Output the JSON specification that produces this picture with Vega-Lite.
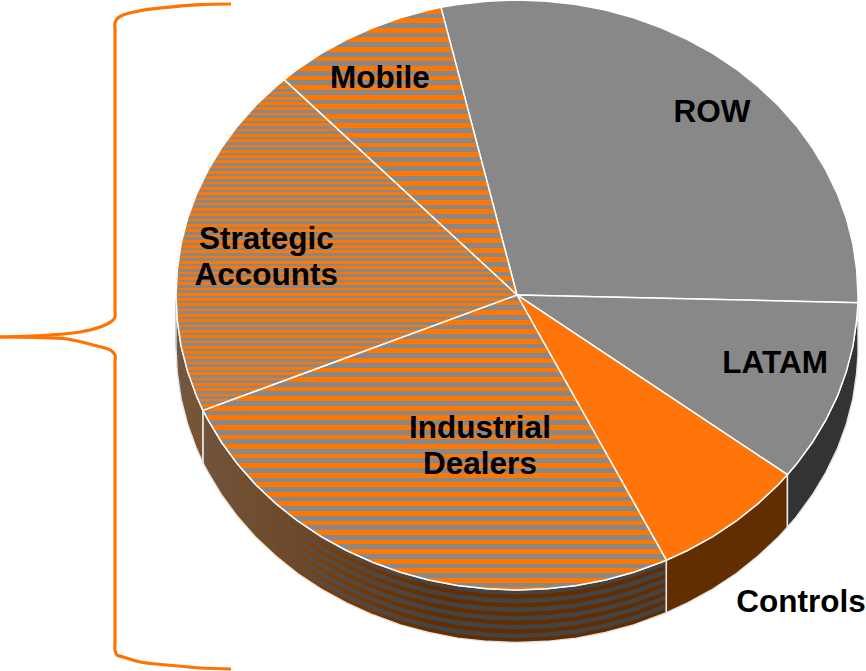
{"$schema":"https://vega.github.io/schema/vega-lite/v6.json","width":866,"height":671,"padding":0,"autosize":{"type":"none"},"background":"white","config":{"view":{"stroke":null}},
"datasets":{
"wall":[
{"s":"LATAM","x":100,"y":-2.6,"y2":-20.4},{"s":"LATAM","x":99.6,"y":-8.7,"y2":-26.5},{"s":"LATAM","x":98.5,"y":-17.4,"y2":-35.2},{"s":"LATAM","x":96.6,"y":-25.9,"y2":-43.7},{"s":"LATAM","x":94,"y":-34.2,"y2":-52},{"s":"LATAM","x":90.6,"y":-42.3,"y2":-60.1},{"s":"LATAM","x":86.6,"y":-50,"y2":-67.8},{"s":"LATAM","x":81.9,"y":-57.4,"y2":-75.2},{"s":"LATAM","x":79.3,"y":-60.9,"y2":-78.7},
{"s":"Controls","x":79.3,"y":-60.9,"y2":-78.7},{"s":"Controls","x":76.6,"y":-64.3,"y2":-82.1},{"s":"Controls","x":70.7,"y":-70.7,"y2":-88.5},{"s":"Controls","x":64.3,"y":-76.6,"y2":-94.4},{"s":"Controls","x":57.4,"y":-81.9,"y2":-99.7},{"s":"Controls","x":50,"y":-86.6,"y2":-104.4},{"s":"Controls","x":43.8,"y":-89.9,"y2":-107.7},
{"s":"Industrial","x":43.8,"y":-89.9,"y2":-107.7},{"s":"Industrial","x":42.3,"y":-90.6,"y2":-108.4},{"s":"Industrial","x":34.2,"y":-94,"y2":-111.8},{"s":"Industrial","x":25.9,"y":-96.6,"y2":-114.4},{"s":"Industrial","x":17.4,"y":-98.5,"y2":-116.3},{"s":"Industrial","x":8.7,"y":-99.6,"y2":-117.4},{"s":"Industrial","x":0,"y":-100,"y2":-117.8},{"s":"Industrial","x":-8.7,"y":-99.6,"y2":-117.4},{"s":"Industrial","x":-17.4,"y":-98.5,"y2":-116.3},{"s":"Industrial","x":-25.9,"y":-96.6,"y2":-114.4},{"s":"Industrial","x":-34.2,"y":-94,"y2":-111.8},{"s":"Industrial","x":-42.3,"y":-90.6,"y2":-108.4},{"s":"Industrial","x":-50,"y":-86.6,"y2":-104.4},{"s":"Industrial","x":-57.4,"y":-81.9,"y2":-99.7},{"s":"Industrial","x":-64.3,"y":-76.6,"y2":-94.4},{"s":"Industrial","x":-70.7,"y":-70.7,"y2":-88.5},{"s":"Industrial","x":-76.6,"y":-64.3,"y2":-82.1},{"s":"Industrial","x":-81.9,"y":-57.4,"y2":-75.2},{"s":"Industrial","x":-86.6,"y":-50,"y2":-67.8},{"s":"Industrial","x":-90.6,"y":-42.3,"y2":-60.1},{"s":"Industrial","x":-92.1,"y":-39.1,"y2":-56.9},
{"s":"Strategic","x":-92.1,"y":-39.1,"y2":-56.9},{"s":"Strategic","x":-94,"y":-34.2,"y2":-52},{"s":"Strategic","x":-96.6,"y":-25.9,"y2":-43.7},{"s":"Strategic","x":-98.5,"y":-17.4,"y2":-35.2},{"s":"Strategic","x":-99.6,"y":-8.7,"y2":-26.5},{"s":"Strategic","x":-100,"y":0,"y2":-17.8}],
"face":[
{"s":"ROW","o":0,"x":0,"y":0},{"s":"ROW","o":1,"x":-22.3,"y":97.5},{"s":"ROW","o":2,"x":-17.4,"y":98.5},{"s":"ROW","o":3,"x":-8.7,"y":99.6},{"s":"ROW","o":4,"x":0,"y":100},{"s":"ROW","o":5,"x":8.7,"y":99.6},{"s":"ROW","o":6,"x":17.4,"y":98.5},{"s":"ROW","o":7,"x":25.9,"y":96.6},{"s":"ROW","o":8,"x":34.2,"y":94},{"s":"ROW","o":9,"x":42.3,"y":90.6},{"s":"ROW","o":10,"x":50,"y":86.6},{"s":"ROW","o":11,"x":57.4,"y":81.9},{"s":"ROW","o":12,"x":64.3,"y":76.6},{"s":"ROW","o":13,"x":70.7,"y":70.7},{"s":"ROW","o":14,"x":76.6,"y":64.3},{"s":"ROW","o":15,"x":81.9,"y":57.4},{"s":"ROW","o":16,"x":86.6,"y":50},{"s":"ROW","o":17,"x":90.6,"y":42.3},{"s":"ROW","o":18,"x":94,"y":34.2},{"s":"ROW","o":19,"x":96.6,"y":25.9},{"s":"ROW","o":20,"x":98.5,"y":17.4},{"s":"ROW","o":21,"x":99.6,"y":8.7},{"s":"ROW","o":22,"x":100,"y":0},{"s":"ROW","o":23,"x":100,"y":-2.6},{"s":"ROW","o":24,"x":0,"y":0},
{"s":"LATAM","o":0,"x":0,"y":0},{"s":"LATAM","o":1,"x":100,"y":-2.6},{"s":"LATAM","o":2,"x":99.6,"y":-8.7},{"s":"LATAM","o":3,"x":98.5,"y":-17.4},{"s":"LATAM","o":4,"x":96.6,"y":-25.9},{"s":"LATAM","o":5,"x":94,"y":-34.2},{"s":"LATAM","o":6,"x":90.6,"y":-42.3},{"s":"LATAM","o":7,"x":86.6,"y":-50},{"s":"LATAM","o":8,"x":81.9,"y":-57.4},{"s":"LATAM","o":9,"x":79.3,"y":-60.9},{"s":"LATAM","o":10,"x":0,"y":0},
{"s":"Controls","o":0,"x":0,"y":0},{"s":"Controls","o":1,"x":79.3,"y":-60.9},{"s":"Controls","o":2,"x":76.6,"y":-64.3},{"s":"Controls","o":3,"x":70.7,"y":-70.7},{"s":"Controls","o":4,"x":64.3,"y":-76.6},{"s":"Controls","o":5,"x":57.4,"y":-81.9},{"s":"Controls","o":6,"x":50,"y":-86.6},{"s":"Controls","o":7,"x":43.8,"y":-89.9},{"s":"Controls","o":8,"x":0,"y":0},
{"s":"Industrial","o":0,"x":0,"y":0},{"s":"Industrial","o":1,"x":43.8,"y":-89.9},{"s":"Industrial","o":2,"x":42.3,"y":-90.6},{"s":"Industrial","o":3,"x":34.2,"y":-94},{"s":"Industrial","o":4,"x":25.9,"y":-96.6},{"s":"Industrial","o":5,"x":17.4,"y":-98.5},{"s":"Industrial","o":6,"x":8.7,"y":-99.6},{"s":"Industrial","o":7,"x":0,"y":-100},{"s":"Industrial","o":8,"x":-8.7,"y":-99.6},{"s":"Industrial","o":9,"x":-17.4,"y":-98.5},{"s":"Industrial","o":10,"x":-25.9,"y":-96.6},{"s":"Industrial","o":11,"x":-34.2,"y":-94},{"s":"Industrial","o":12,"x":-42.3,"y":-90.6},{"s":"Industrial","o":13,"x":-50,"y":-86.6},{"s":"Industrial","o":14,"x":-57.4,"y":-81.9},{"s":"Industrial","o":15,"x":-64.3,"y":-76.6},{"s":"Industrial","o":16,"x":-70.7,"y":-70.7},{"s":"Industrial","o":17,"x":-76.6,"y":-64.3},{"s":"Industrial","o":18,"x":-81.9,"y":-57.4},{"s":"Industrial","o":19,"x":-86.6,"y":-50},{"s":"Industrial","o":20,"x":-90.6,"y":-42.3},{"s":"Industrial","o":21,"x":-92.1,"y":-39.1},{"s":"Industrial","o":22,"x":0,"y":0},
{"s":"Strategic","o":0,"x":0,"y":0},{"s":"Strategic","o":1,"x":-92.1,"y":-39.1},{"s":"Strategic","o":2,"x":-94,"y":-34.2},{"s":"Strategic","o":3,"x":-96.6,"y":-25.9},{"s":"Strategic","o":4,"x":-98.5,"y":-17.4},{"s":"Strategic","o":5,"x":-99.6,"y":-8.7},{"s":"Strategic","o":6,"x":-100,"y":0},{"s":"Strategic","o":7,"x":-99.6,"y":8.7},{"s":"Strategic","o":8,"x":-98.5,"y":17.4},{"s":"Strategic","o":9,"x":-96.6,"y":25.9},{"s":"Strategic","o":10,"x":-94,"y":34.2},{"s":"Strategic","o":11,"x":-90.6,"y":42.3},{"s":"Strategic","o":12,"x":-86.6,"y":50},{"s":"Strategic","o":13,"x":-81.9,"y":57.4},{"s":"Strategic","o":14,"x":-76.6,"y":64.3},{"s":"Strategic","o":15,"x":-70.7,"y":70.7},{"s":"Strategic","o":16,"x":-68.3,"y":73},{"s":"Strategic","o":17,"x":0,"y":0},
{"s":"Mobile","o":0,"x":0,"y":0},{"s":"Mobile","o":1,"x":-68.3,"y":73},{"s":"Mobile","o":2,"x":-64.3,"y":76.6},{"s":"Mobile","o":3,"x":-57.4,"y":81.9},{"s":"Mobile","o":4,"x":-50,"y":86.6},{"s":"Mobile","o":5,"x":-42.3,"y":90.6},{"s":"Mobile","o":6,"x":-34.2,"y":94},{"s":"Mobile","o":7,"x":-25.9,"y":96.6},{"s":"Mobile","o":8,"x":-22.3,"y":97.5},{"s":"Mobile","o":9,"x":0,"y":0}],
"bracket":[
{"b":"upper","o":0,"x":-83.87,"y":98.64},{"b":"upper","o":1,"x":-92.96,"y":98.41},{"b":"upper","o":2,"x":-102.64,"y":97.53},{"b":"upper","o":3,"x":-110.56,"y":96.37},{"b":"upper","o":4,"x":-115.54,"y":94.92},{"b":"upper","o":5,"x":-117.3,"y":93.56},{"b":"upper","o":6,"x":-117.89,"y":92.2},{"b":"upper","o":7,"x":-117.89,"y":89.83},{"b":"upper","o":8,"x":-117.89,"y":-5.08},{"b":"upper","o":9,"x":-117.89,"y":-7.46},{"b":"upper","o":10,"x":-118.77,"y":-8.81},{"b":"upper","o":11,"x":-122.29,"y":-10.85},{"b":"upper","o":12,"x":-128.15,"y":-12.54},{"b":"upper","o":13,"x":-136.95,"y":-13.56},{"b":"upper","o":14,"x":-151.61,"y":-14.24},
{"b":"lower","o":0,"x":-151.61,"y":-14.24},{"b":"lower","o":1,"x":-141.94,"y":-14.41},{"b":"lower","o":2,"x":-131.96,"y":-14.92},{"b":"lower","o":3,"x":-124.34,"y":-16.95},{"b":"lower","o":4,"x":-119.35,"y":-18.64},{"b":"lower","o":5,"x":-117.89,"y":-20.34},{"b":"lower","o":6,"x":-117.89,"y":-22.71},{"b":"lower","o":7,"x":-117.89,"y":-117.97},{"b":"lower","o":8,"x":-117.89,"y":-120.34},{"b":"lower","o":9,"x":-117.3,"y":-122.03},{"b":"lower","o":10,"x":-115.54,"y":-122.71},{"b":"lower","o":11,"x":-110.56,"y":-124.41},{"b":"lower","o":12,"x":-102.64,"y":-125.42},{"b":"lower","o":13,"x":-92.96,"y":-126.44},{"b":"lower","o":14,"x":-83.87,"y":-126.78}],
"labels":[{"t":"ROW","x":57.18,"y":61.7},{"t":"Mobile","x":-40.2,"y":73.2},{"t":"Strategic\nAccounts","x":-73.5,"y":18.6},{"t":"Industrial\nDealers","x":-10.85,"y":-45.4},{"t":"LATAM","x":75.7,"y":-23.4},{"t":"Controls","x":83.3,"y":-104.4}]
},
"encoding":{"x":{"field":"x","type":"quantitative","axis":null,"scale":{"domain":[-151.61,102.35],"nice":false,"zero":false}},"y":{"field":"y","type":"quantitative","axis":null,"scale":{"domain":[-127.46,100],"nice":false,"zero":false}}},
"layer":[
{"data":{"name":"wall"},"mark":{"type":"area","orient":"vertical"},"encoding":{"y2":{"field":"y2"},"color":{"field":"s","type":"nominal","legend":null,"scale":{"domain":["LATAM","Controls","Industrial","Strategic"],"range":["#333333","#622d00","#622d00","#8a4a10"]}}}},
{"data":{"name":"wall"},"transform":[{"filter":"datum.s==='Industrial'"}],"mark":{"type":"area","orient":"vertical","fill":{"gradient":"linear","x1":0,"y1":0,"x2":1,"y2":0,"stops":[{"offset":0,"color":"#96500f"},{"offset":0.5,"color":"#622d00"},{"offset":1,"color":"#622d00"}]}},"encoding":{"y2":{"field":"y2"}}},
{"data":{"name":"wall"},"transform":[{"filter":"datum.s==='Industrial'"}],"layer":[
{"mark":{"type":"line","stroke":{"gradient":"linear","x1":0,"y1":0,"x2":1,"y2":0,"stops":[{"offset":0,"color":"#70533c"},{"offset":0.5,"color":"#444"},{"offset":1,"color":"#444"}]},"strokeWidth":4.4,"yOffset":2.4}},{"mark":{"type":"line","stroke":{"gradient":"linear","x1":0,"y1":0,"x2":1,"y2":0,"stops":[{"offset":0,"color":"#70533c"},{"offset":0.5,"color":"#444"},{"offset":1,"color":"#444"}]},"strokeWidth":4.4,"yOffset":11.1}},{"mark":{"type":"line","stroke":{"gradient":"linear","x1":0,"y1":0,"x2":1,"y2":0,"stops":[{"offset":0,"color":"#70533c"},{"offset":0.5,"color":"#444"},{"offset":1,"color":"#444"}]},"strokeWidth":4.4,"yOffset":19.8}},{"mark":{"type":"line","stroke":{"gradient":"linear","x1":0,"y1":0,"x2":1,"y2":0,"stops":[{"offset":0,"color":"#70533c"},{"offset":0.5,"color":"#444"},{"offset":1,"color":"#444"}]},"strokeWidth":4.4,"yOffset":28.5}},{"mark":{"type":"line","stroke":{"gradient":"linear","x1":0,"y1":0,"x2":1,"y2":0,"stops":[{"offset":0,"color":"#70533c"},{"offset":0.5,"color":"#444"},{"offset":1,"color":"#444"}]},"strokeWidth":4.4,"yOffset":37.2}},{"mark":{"type":"line","stroke":{"gradient":"linear","x1":0,"y1":0,"x2":1,"y2":0,"stops":[{"offset":0,"color":"#70533c"},{"offset":0.5,"color":"#444"},{"offset":1,"color":"#444"}]},"strokeWidth":4.4,"yOffset":45.9}}]},
{"data":{"name":"wall"},"transform":[{"filter":"datum.s==='Strategic'"}],"layer":[
{"mark":{"type":"line","stroke":"#6e5a48","strokeWidth":1.2,"yOffset":3}},{"mark":{"type":"line","stroke":"#6e5a48","strokeWidth":1.2,"yOffset":7.8}},{"mark":{"type":"line","stroke":"#6e5a48","strokeWidth":1.2,"yOffset":12.6}},{"mark":{"type":"line","stroke":"#6e5a48","strokeWidth":1.2,"yOffset":17.4}},{"mark":{"type":"line","stroke":"#6e5a48","strokeWidth":1.2,"yOffset":22.2}},{"mark":{"type":"line","stroke":"#6e5a48","strokeWidth":1.2,"yOffset":27}},{"mark":{"type":"line","stroke":"#6e5a48","strokeWidth":1.2,"yOffset":31.8}},{"mark":{"type":"line","stroke":"#6e5a48","strokeWidth":1.2,"yOffset":36.6}},{"mark":{"type":"line","stroke":"#6e5a48","strokeWidth":1.2,"yOffset":41.4}},{"mark":{"type":"line","stroke":"#6e5a48","strokeWidth":1.2,"yOffset":46.2}}]},
{"data":{"name":"wall"},"mark":{"type":"area","orient":"vertical","fillOpacity":0,"stroke":"#e4e4e4","strokeWidth":1.4},"encoding":{"y2":{"field":"y2"},"detail":{"field":"s"}}},
{"data":{"name":"face"},"transform":[{"filter":"datum.s==='ROW'||datum.s==='LATAM'"}],"mark":{"type":"line","fill":"#888","stroke":"#fff","strokeWidth":1.5},"encoding":{"detail":{"field":"s"},"order":{"field":"o"}}},
{"data":{"name":"face"},"transform":[{"filter":"datum.s==='Controls'"}],"mark":{"type":"line","fill":"#ff7509","stroke":"#fff","strokeWidth":1.5},"encoding":{"order":{"field":"o"}}},
{"data":{"name":"face"},"transform":[{"filter":"datum.s==='Industrial'"}],"mark":{"type":"line","stroke":"#fff","strokeWidth":1.5,"fill":{"gradient":"linear","x1":0,"y1":0,"x2":0,"y2":1,"stops":[{"offset":0,"color":"#888"},{"offset":0.0193,"color":"#888"},{"offset":0.0193,"color":"#f70"},{"offset":0.0355,"color":"#f70"},{"offset":0.0355,"color":"#888"},{"offset":0.0517,"color":"#888"},{"offset":0.0517,"color":"#f70"},{"offset":0.0679,"color":"#f70"},{"offset":0.0679,"color":"#888"},{"offset":0.0841,"color":"#888"},{"offset":0.0841,"color":"#f70"},{"offset":0.1003,"color":"#f70"},{"offset":0.1003,"color":"#888"},{"offset":0.1165,"color":"#888"},{"offset":0.1165,"color":"#f70"},{"offset":0.1327,"color":"#f70"},{"offset":0.1327,"color":"#888"},{"offset":0.1489,"color":"#888"},{"offset":0.1489,"color":"#f70"},{"offset":0.1651,"color":"#f70"},{"offset":0.1651,"color":"#888"},{"offset":0.1813,"color":"#888"},{"offset":0.1813,"color":"#f70"},{"offset":0.1975,"color":"#f70"},{"offset":0.1975,"color":"#888"},{"offset":0.2137,"color":"#888"},{"offset":0.2137,"color":"#f70"},{"offset":0.2299,"color":"#f70"},{"offset":0.2299,"color":"#888"},{"offset":0.2461,"color":"#888"},{"offset":0.2461,"color":"#f70"},{"offset":0.2623,"color":"#f70"},{"offset":0.2623,"color":"#888"},{"offset":0.2785,"color":"#888"},{"offset":0.2785,"color":"#f70"},{"offset":0.2947,"color":"#f70"},{"offset":0.2947,"color":"#888"},{"offset":0.3109,"color":"#888"},{"offset":0.3109,"color":"#f70"},{"offset":0.3271,"color":"#f70"},{"offset":0.3271,"color":"#888"},{"offset":0.3433,"color":"#888"},{"offset":0.3433,"color":"#f70"},{"offset":0.3595,"color":"#f70"},{"offset":0.3595,"color":"#888"},{"offset":0.3757,"color":"#888"},{"offset":0.3757,"color":"#f70"},{"offset":0.3919,"color":"#f70"},{"offset":0.3919,"color":"#888"},{"offset":0.4081,"color":"#888"},{"offset":0.4081,"color":"#f70"},{"offset":0.4243,"color":"#f70"},{"offset":0.4243,"color":"#888"},{"offset":0.4405,"color":"#888"},{"offset":0.4405,"color":"#f70"},{"offset":0.4567,"color":"#f70"},{"offset":0.4567,"color":"#888"},{"offset":0.4729,"color":"#888"},{"offset":0.4729,"color":"#f70"},{"offset":0.4891,"color":"#f70"},{"offset":0.4891,"color":"#888"},{"offset":0.5053,"color":"#888"},{"offset":0.5053,"color":"#f70"},{"offset":0.5215,"color":"#f70"},{"offset":0.5215,"color":"#888"},{"offset":0.5377,"color":"#888"},{"offset":0.5377,"color":"#f70"},{"offset":0.5539,"color":"#f70"},{"offset":0.5539,"color":"#888"},{"offset":0.5701,"color":"#888"},{"offset":0.5701,"color":"#f70"},{"offset":0.5863,"color":"#f70"},{"offset":0.5863,"color":"#888"},{"offset":0.6025,"color":"#888"},{"offset":0.6025,"color":"#f70"},{"offset":0.6187,"color":"#f70"},{"offset":0.6187,"color":"#888"},{"offset":0.6349,"color":"#888"},{"offset":0.6349,"color":"#f70"},{"offset":0.6511,"color":"#f70"},{"offset":0.6511,"color":"#888"},{"offset":0.6673,"color":"#888"},{"offset":0.6673,"color":"#f70"},{"offset":0.6835,"color":"#f70"},{"offset":0.6835,"color":"#888"},{"offset":0.6997,"color":"#888"},{"offset":0.6997,"color":"#f70"},{"offset":0.7159,"color":"#f70"},{"offset":0.7159,"color":"#888"},{"offset":0.7321,"color":"#888"},{"offset":0.7321,"color":"#f70"},{"offset":0.7483,"color":"#f70"},{"offset":0.7483,"color":"#888"},{"offset":0.7645,"color":"#888"},{"offset":0.7645,"color":"#f70"},{"offset":0.7807,"color":"#f70"},{"offset":0.7807,"color":"#888"},{"offset":0.7969,"color":"#888"},{"offset":0.7969,"color":"#f70"},{"offset":0.8131,"color":"#f70"},{"offset":0.8131,"color":"#888"},{"offset":0.8293,"color":"#888"},{"offset":0.8293,"color":"#f70"},{"offset":0.8455,"color":"#f70"},{"offset":0.8455,"color":"#888"},{"offset":0.8617,"color":"#888"},{"offset":0.8617,"color":"#f70"},{"offset":0.8779,"color":"#f70"},{"offset":0.8779,"color":"#888"},{"offset":0.8941,"color":"#888"},{"offset":0.8941,"color":"#f70"},{"offset":0.9103,"color":"#f70"},{"offset":0.9103,"color":"#888"},{"offset":0.9265,"color":"#888"},{"offset":0.9265,"color":"#f70"},{"offset":0.9427,"color":"#f70"},{"offset":0.9427,"color":"#888"},{"offset":0.9589,"color":"#888"},{"offset":0.9589,"color":"#f70"},{"offset":0.9751,"color":"#f70"},{"offset":0.9751,"color":"#888"},{"offset":0.9913,"color":"#888"},{"offset":0.9913,"color":"#f70"},{"offset":1,"color":"#f70"}]}},"encoding":{"order":{"field":"o"}}},
{"data":{"name":"face"},"transform":[{"filter":"datum.s==='Mobile'"}],"mark":{"type":"line","stroke":"#fff","strokeWidth":1.5,"fill":{"gradient":"linear","x1":0,"y1":0,"x2":0,"y2":1,"stops":[{"offset":0,"color":"#888"},{"offset":0.0047,"color":"#888"},{"offset":0.0047,"color":"#f70"},{"offset":0.0213,"color":"#f70"},{"offset":0.0213,"color":"#888"},{"offset":0.0379,"color":"#888"},{"offset":0.0379,"color":"#f70"},{"offset":0.0546,"color":"#f70"},{"offset":0.0546,"color":"#888"},{"offset":0.0712,"color":"#888"},{"offset":0.0712,"color":"#f70"},{"offset":0.0878,"color":"#f70"},{"offset":0.0878,"color":"#888"},{"offset":0.1044,"color":"#888"},{"offset":0.1044,"color":"#f70"},{"offset":0.121,"color":"#f70"},{"offset":0.121,"color":"#888"},{"offset":0.1377,"color":"#888"},{"offset":0.1377,"color":"#f70"},{"offset":0.1543,"color":"#f70"},{"offset":0.1543,"color":"#888"},{"offset":0.1709,"color":"#888"},{"offset":0.1709,"color":"#f70"},{"offset":0.1875,"color":"#f70"},{"offset":0.1875,"color":"#888"},{"offset":0.2041,"color":"#888"},{"offset":0.2041,"color":"#f70"},{"offset":0.2208,"color":"#f70"},{"offset":0.2208,"color":"#888"},{"offset":0.2374,"color":"#888"},{"offset":0.2374,"color":"#f70"},{"offset":0.254,"color":"#f70"},{"offset":0.254,"color":"#888"},{"offset":0.2706,"color":"#888"},{"offset":0.2706,"color":"#f70"},{"offset":0.2872,"color":"#f70"},{"offset":0.2872,"color":"#888"},{"offset":0.3039,"color":"#888"},{"offset":0.3039,"color":"#f70"},{"offset":0.3205,"color":"#f70"},{"offset":0.3205,"color":"#888"},{"offset":0.3371,"color":"#888"},{"offset":0.3371,"color":"#f70"},{"offset":0.3537,"color":"#f70"},{"offset":0.3537,"color":"#888"},{"offset":0.3703,"color":"#888"},{"offset":0.3703,"color":"#f70"},{"offset":0.387,"color":"#f70"},{"offset":0.387,"color":"#888"},{"offset":0.4036,"color":"#888"},{"offset":0.4036,"color":"#f70"},{"offset":0.4202,"color":"#f70"},{"offset":0.4202,"color":"#888"},{"offset":0.4368,"color":"#888"},{"offset":0.4368,"color":"#f70"},{"offset":0.4534,"color":"#f70"},{"offset":0.4534,"color":"#888"},{"offset":0.4701,"color":"#888"},{"offset":0.4701,"color":"#f70"},{"offset":0.4867,"color":"#f70"},{"offset":0.4867,"color":"#888"},{"offset":0.5033,"color":"#888"},{"offset":0.5033,"color":"#f70"},{"offset":0.5199,"color":"#f70"},{"offset":0.5199,"color":"#888"},{"offset":0.5365,"color":"#888"},{"offset":0.5365,"color":"#f70"},{"offset":0.5532,"color":"#f70"},{"offset":0.5532,"color":"#888"},{"offset":0.5698,"color":"#888"},{"offset":0.5698,"color":"#f70"},{"offset":0.5864,"color":"#f70"},{"offset":0.5864,"color":"#888"},{"offset":0.603,"color":"#888"},{"offset":0.603,"color":"#f70"},{"offset":0.6196,"color":"#f70"},{"offset":0.6196,"color":"#888"},{"offset":0.6363,"color":"#888"},{"offset":0.6363,"color":"#f70"},{"offset":0.6529,"color":"#f70"},{"offset":0.6529,"color":"#888"},{"offset":0.6695,"color":"#888"},{"offset":0.6695,"color":"#f70"},{"offset":0.6861,"color":"#f70"},{"offset":0.6861,"color":"#888"},{"offset":0.7027,"color":"#888"},{"offset":0.7027,"color":"#f70"},{"offset":0.7194,"color":"#f70"},{"offset":0.7194,"color":"#888"},{"offset":0.736,"color":"#888"},{"offset":0.736,"color":"#f70"},{"offset":0.7526,"color":"#f70"},{"offset":0.7526,"color":"#888"},{"offset":0.7692,"color":"#888"},{"offset":0.7692,"color":"#f70"},{"offset":0.7858,"color":"#f70"},{"offset":0.7858,"color":"#888"},{"offset":0.8025,"color":"#888"},{"offset":0.8025,"color":"#f70"},{"offset":0.8191,"color":"#f70"},{"offset":0.8191,"color":"#888"},{"offset":0.8357,"color":"#888"},{"offset":0.8357,"color":"#f70"},{"offset":0.8523,"color":"#f70"},{"offset":0.8523,"color":"#888"},{"offset":0.8689,"color":"#888"},{"offset":0.8689,"color":"#f70"},{"offset":0.8856,"color":"#f70"},{"offset":0.8856,"color":"#888"},{"offset":0.9022,"color":"#888"},{"offset":0.9022,"color":"#f70"},{"offset":0.9188,"color":"#f70"},{"offset":0.9188,"color":"#888"},{"offset":0.9354,"color":"#888"},{"offset":0.9354,"color":"#f70"},{"offset":0.952,"color":"#f70"},{"offset":0.952,"color":"#888"},{"offset":0.9687,"color":"#888"},{"offset":0.9687,"color":"#f70"},{"offset":0.9853,"color":"#f70"},{"offset":0.9853,"color":"#888"},{"offset":1,"color":"#888"}]}},"encoding":{"order":{"field":"o"}}},
{"data":{"name":"face"},"transform":[{"filter":"datum.s==='Strategic'"}],"mark":{"type":"line","stroke":"#fff","strokeWidth":1.5,"fill":{"gradient":"linear","x1":0,"y1":0,"x2":0,"y2":1,"stops":[{"offset":0,"color":"#888"},{"offset":0.004,"color":"#888"},{"offset":0.004,"color":"#f70"},{"offset":0.012,"color":"#f70"},{"offset":0.012,"color":"#888"},{"offset":0.02,"color":"#888"},{"offset":0.02,"color":"#f70"},{"offset":0.028,"color":"#f70"},{"offset":0.028,"color":"#888"},{"offset":0.036,"color":"#888"},{"offset":0.036,"color":"#f70"},{"offset":0.0441,"color":"#f70"},{"offset":0.0441,"color":"#888"},{"offset":0.0521,"color":"#888"},{"offset":0.0521,"color":"#f70"},{"offset":0.0601,"color":"#f70"},{"offset":0.0601,"color":"#888"},{"offset":0.0681,"color":"#888"},{"offset":0.0681,"color":"#f70"},{"offset":0.0761,"color":"#f70"},{"offset":0.0761,"color":"#888"},{"offset":0.0841,"color":"#888"},{"offset":0.0841,"color":"#f70"},{"offset":0.0921,"color":"#f70"},{"offset":0.0921,"color":"#888"},{"offset":0.1001,"color":"#888"},{"offset":0.1001,"color":"#f70"},{"offset":0.1081,"color":"#f70"},{"offset":0.1081,"color":"#888"},{"offset":0.1161,"color":"#888"},{"offset":0.1161,"color":"#f70"},{"offset":0.1242,"color":"#f70"},{"offset":0.1242,"color":"#888"},{"offset":0.1322,"color":"#888"},{"offset":0.1322,"color":"#f70"},{"offset":0.1402,"color":"#f70"},{"offset":0.1402,"color":"#888"},{"offset":0.1482,"color":"#888"},{"offset":0.1482,"color":"#f70"},{"offset":0.1562,"color":"#f70"},{"offset":0.1562,"color":"#888"},{"offset":0.1642,"color":"#888"},{"offset":0.1642,"color":"#f70"},{"offset":0.1722,"color":"#f70"},{"offset":0.1722,"color":"#888"},{"offset":0.1802,"color":"#888"},{"offset":0.1802,"color":"#f70"},{"offset":0.1882,"color":"#f70"},{"offset":0.1882,"color":"#888"},{"offset":0.1962,"color":"#888"},{"offset":0.1962,"color":"#f70"},{"offset":0.2043,"color":"#f70"},{"offset":0.2043,"color":"#888"},{"offset":0.2123,"color":"#888"},{"offset":0.2123,"color":"#f70"},{"offset":0.2203,"color":"#f70"},{"offset":0.2203,"color":"#888"},{"offset":0.2283,"color":"#888"},{"offset":0.2283,"color":"#f70"},{"offset":0.2363,"color":"#f70"},{"offset":0.2363,"color":"#888"},{"offset":0.2443,"color":"#888"},{"offset":0.2443,"color":"#f70"},{"offset":0.2523,"color":"#f70"},{"offset":0.2523,"color":"#888"},{"offset":0.2603,"color":"#888"},{"offset":0.2603,"color":"#f70"},{"offset":0.2683,"color":"#f70"},{"offset":0.2683,"color":"#888"},{"offset":0.2763,"color":"#888"},{"offset":0.2763,"color":"#f70"},{"offset":0.2844,"color":"#f70"},{"offset":0.2844,"color":"#888"},{"offset":0.2924,"color":"#888"},{"offset":0.2924,"color":"#f70"},{"offset":0.3004,"color":"#f70"},{"offset":0.3004,"color":"#888"},{"offset":0.3084,"color":"#888"},{"offset":0.3084,"color":"#f70"},{"offset":0.3164,"color":"#f70"},{"offset":0.3164,"color":"#888"},{"offset":0.3244,"color":"#888"},{"offset":0.3244,"color":"#f70"},{"offset":0.3324,"color":"#f70"},{"offset":0.3324,"color":"#888"},{"offset":0.3404,"color":"#888"},{"offset":0.3404,"color":"#f70"},{"offset":0.3484,"color":"#f70"},{"offset":0.3484,"color":"#888"},{"offset":0.3564,"color":"#888"},{"offset":0.3564,"color":"#f70"},{"offset":0.3645,"color":"#f70"},{"offset":0.3645,"color":"#888"},{"offset":0.3725,"color":"#888"},{"offset":0.3725,"color":"#f70"},{"offset":0.3805,"color":"#f70"},{"offset":0.3805,"color":"#888"},{"offset":0.3885,"color":"#888"},{"offset":0.3885,"color":"#f70"},{"offset":0.3965,"color":"#f70"},{"offset":0.3965,"color":"#888"},{"offset":0.4045,"color":"#888"},{"offset":0.4045,"color":"#f70"},{"offset":0.4125,"color":"#f70"},{"offset":0.4125,"color":"#888"},{"offset":0.4205,"color":"#888"},{"offset":0.4205,"color":"#f70"},{"offset":0.4285,"color":"#f70"},{"offset":0.4285,"color":"#888"},{"offset":0.4365,"color":"#888"},{"offset":0.4365,"color":"#f70"},{"offset":0.4446,"color":"#f70"},{"offset":0.4446,"color":"#888"},{"offset":0.4526,"color":"#888"},{"offset":0.4526,"color":"#f70"},{"offset":0.4606,"color":"#f70"},{"offset":0.4606,"color":"#888"},{"offset":0.4686,"color":"#888"},{"offset":0.4686,"color":"#f70"},{"offset":0.4766,"color":"#f70"},{"offset":0.4766,"color":"#888"},{"offset":0.4846,"color":"#888"},{"offset":0.4846,"color":"#f70"},{"offset":0.4926,"color":"#f70"},{"offset":0.4926,"color":"#888"},{"offset":0.5006,"color":"#888"},{"offset":0.5006,"color":"#f70"},{"offset":0.5086,"color":"#f70"},{"offset":0.5086,"color":"#888"},{"offset":0.5166,"color":"#888"},{"offset":0.5166,"color":"#f70"},{"offset":0.5247,"color":"#f70"},{"offset":0.5247,"color":"#888"},{"offset":0.5327,"color":"#888"},{"offset":0.5327,"color":"#f70"},{"offset":0.5407,"color":"#f70"},{"offset":0.5407,"color":"#888"},{"offset":0.5487,"color":"#888"},{"offset":0.5487,"color":"#f70"},{"offset":0.5567,"color":"#f70"},{"offset":0.5567,"color":"#888"},{"offset":0.5647,"color":"#888"},{"offset":0.5647,"color":"#f70"},{"offset":0.5727,"color":"#f70"},{"offset":0.5727,"color":"#888"},{"offset":0.5807,"color":"#888"},{"offset":0.5807,"color":"#f70"},{"offset":0.5887,"color":"#f70"},{"offset":0.5887,"color":"#888"},{"offset":0.5967,"color":"#888"},{"offset":0.5967,"color":"#f70"},{"offset":0.6048,"color":"#f70"},{"offset":0.6048,"color":"#888"},{"offset":0.6128,"color":"#888"},{"offset":0.6128,"color":"#f70"},{"offset":0.6208,"color":"#f70"},{"offset":0.6208,"color":"#888"},{"offset":0.6288,"color":"#888"},{"offset":0.6288,"color":"#f70"},{"offset":0.6368,"color":"#f70"},{"offset":0.6368,"color":"#888"},{"offset":0.6448,"color":"#888"},{"offset":0.6448,"color":"#f70"},{"offset":0.6528,"color":"#f70"},{"offset":0.6528,"color":"#888"},{"offset":0.6608,"color":"#888"},{"offset":0.6608,"color":"#f70"},{"offset":0.6688,"color":"#f70"},{"offset":0.6688,"color":"#888"},{"offset":0.6768,"color":"#888"},{"offset":0.6768,"color":"#f70"},{"offset":0.6849,"color":"#f70"},{"offset":0.6849,"color":"#888"},{"offset":0.6929,"color":"#888"},{"offset":0.6929,"color":"#f70"},{"offset":0.7009,"color":"#f70"},{"offset":0.7009,"color":"#888"},{"offset":0.7089,"color":"#888"},{"offset":0.7089,"color":"#f70"},{"offset":0.7169,"color":"#f70"},{"offset":0.7169,"color":"#888"},{"offset":0.7249,"color":"#888"},{"offset":0.7249,"color":"#f70"},{"offset":0.7329,"color":"#f70"},{"offset":0.7329,"color":"#888"},{"offset":0.7409,"color":"#888"},{"offset":0.7409,"color":"#f70"},{"offset":0.7489,"color":"#f70"},{"offset":0.7489,"color":"#888"},{"offset":0.7569,"color":"#888"},{"offset":0.7569,"color":"#f70"},{"offset":0.765,"color":"#f70"},{"offset":0.765,"color":"#888"},{"offset":0.773,"color":"#888"},{"offset":0.773,"color":"#f70"},{"offset":0.781,"color":"#f70"},{"offset":0.781,"color":"#888"},{"offset":0.789,"color":"#888"},{"offset":0.789,"color":"#f70"},{"offset":0.797,"color":"#f70"},{"offset":0.797,"color":"#888"},{"offset":0.805,"color":"#888"},{"offset":0.805,"color":"#f70"},{"offset":0.813,"color":"#f70"},{"offset":0.813,"color":"#888"},{"offset":0.821,"color":"#888"},{"offset":0.821,"color":"#f70"},{"offset":0.829,"color":"#f70"},{"offset":0.829,"color":"#888"},{"offset":0.837,"color":"#888"},{"offset":0.837,"color":"#f70"},{"offset":0.8451,"color":"#f70"},{"offset":0.8451,"color":"#888"},{"offset":0.8531,"color":"#888"},{"offset":0.8531,"color":"#f70"},{"offset":0.8611,"color":"#f70"},{"offset":0.8611,"color":"#888"},{"offset":0.8691,"color":"#888"},{"offset":0.8691,"color":"#f70"},{"offset":0.8771,"color":"#f70"},{"offset":0.8771,"color":"#888"},{"offset":0.8851,"color":"#888"},{"offset":0.8851,"color":"#f70"},{"offset":0.8931,"color":"#f70"},{"offset":0.8931,"color":"#888"},{"offset":0.9011,"color":"#888"},{"offset":0.9011,"color":"#f70"},{"offset":0.9091,"color":"#f70"},{"offset":0.9091,"color":"#888"},{"offset":0.9171,"color":"#888"},{"offset":0.9171,"color":"#f70"},{"offset":0.9252,"color":"#f70"},{"offset":0.9252,"color":"#888"},{"offset":0.9332,"color":"#888"},{"offset":0.9332,"color":"#f70"},{"offset":0.9412,"color":"#f70"},{"offset":0.9412,"color":"#888"},{"offset":0.9492,"color":"#888"},{"offset":0.9492,"color":"#f70"},{"offset":0.9572,"color":"#f70"},{"offset":0.9572,"color":"#888"},{"offset":0.9652,"color":"#888"},{"offset":0.9652,"color":"#f70"},{"offset":0.9732,"color":"#f70"},{"offset":0.9732,"color":"#888"},{"offset":0.9812,"color":"#888"},{"offset":0.9812,"color":"#f70"},{"offset":0.9892,"color":"#f70"},{"offset":0.9892,"color":"#888"},{"offset":0.9972,"color":"#888"},{"offset":0.9972,"color":"#f70"},{"offset":1,"color":"#f70"}]}},"encoding":{"order":{"field":"o"}}},
{"data":{"name":"bracket"},"mark":{"type":"line","stroke":"#ff7300","strokeWidth":3.2,"interpolate":"catmull-rom"},"encoding":{"detail":{"field":"b"},"order":{"field":"o"}}},
{"data":{"name":"labels"},"mark":{"type":"text","font":"Liberation Sans","fontWeight":"bold","fontSize":31.5,"align":"center","baseline":"middle","lineBreak":"\n","lineHeight":36,"color":"#000"},"encoding":{"text":{"field":"t"}}}
]}
